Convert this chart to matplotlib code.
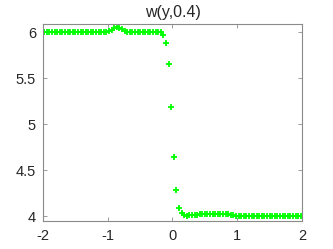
import matplotlib
matplotlib.use("Agg")
import matplotlib.pyplot as plt
import numpy as np

plt.rcParams['font.family'] = ['Liberation Sans', 'DejaVu Sans']
plt.rcParams['axes.unicode_minus'] = False

# cell centres on [-2, 2], 100 cells
y_pos = np.arange(-1.98, 2.0, 0.04)
w_vals = [
    6.0, 6.0, 6.0, 6.0, 6.0, 6.0, 6.0, 6.0, 6.0, 6.0,
    6.0, 6.0, 6.0, 6.0, 6.0, 6.0, 6.0, 6.0, 6.0, 6.0,
    6.0, 6.0, 6.0, 6.0, 6.0,
    6.01, 6.025, 6.04, 6.05, 6.045, 6.03, 6.01, 6.002,
    6.0, 6.0, 6.0, 6.0, 6.0, 6.0, 6.0, 6.0, 6.0, 6.0, 6.0, 6.0,
    5.995, 5.97, 5.88, 5.65, 5.18, 4.64, 4.28, 4.09, 4.03, 4.01, 4.005,
    4.008, 4.01, 4.012, 4.015, 4.017,
    4.02, 4.02, 4.022, 4.022, 4.022, 4.022, 4.022, 4.022, 4.022, 4.02, 4.02,
    4.015, 4.008, 4.003,
    4.0, 4.0, 4.0, 4.0, 4.0, 4.0, 4.0, 4.0, 4.0, 4.0,
    4.0, 4.0, 4.0, 4.0, 4.0, 4.0, 4.0, 4.0, 4.0, 4.0,
    4.0, 4.0, 4.0, 4.0, 4.0,
]
x_ticks = [-2, -1, 0, 1, 2]
y_ticks = [4, 4.5, 5, 5.5, 6]

fig = plt.figure(figsize=(3.33, 2.49), dpi=100)
ax = fig.add_axes([0.129, 0.1124, 0.778, 0.7912])

ax.plot(y_pos, w_vals, linestyle='none', marker='+', color='#00ff00',
        markersize=4.5, markeredgewidth=1.3)

ax.set_xlim(-2, 2)
ax.set_ylim(3.946, 6.087)
ax.set_xticks(x_ticks)
ax.set_yticks(y_ticks)
ax.set_yticklabels(['4', '4.5', '5', '5.5', '6'])
ax.set_title('w(y,0.4)', fontsize=11.5, color='#262626', pad=5)

for s in ax.spines.values():
    s.set_color('#8a8a8a')
    s.set_linewidth(0.8)
ax.tick_params(direction='in', length=3, width=0.6, color='#8a8a8a',
               top=True, right=True, labelsize=10.5, labelcolor='#262626')
ax.tick_params(axis='x', pad=6)
ax.tick_params(axis='y', pad=5)

fig.savefig('out.png', dpi=100)
